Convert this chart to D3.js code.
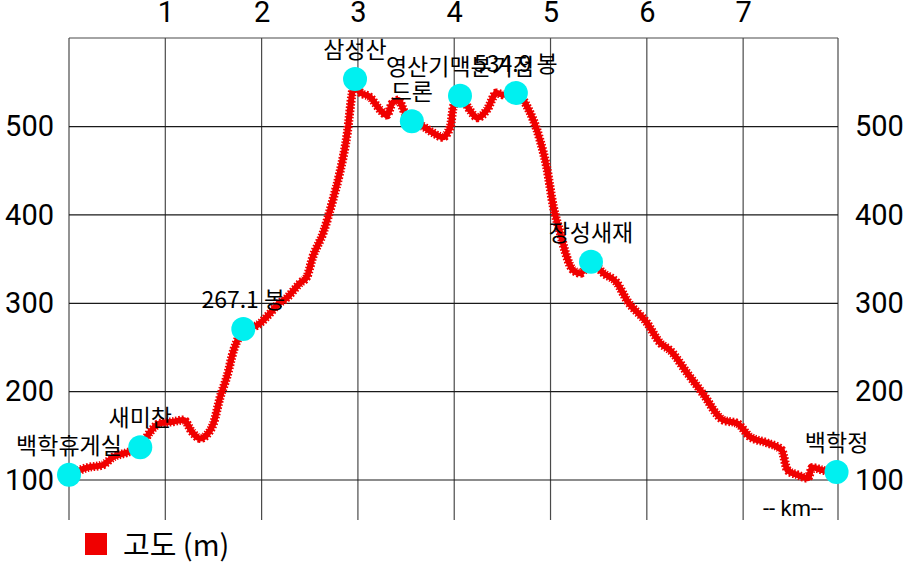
<!DOCTYPE html>
<html>
<head>
<meta charset="utf-8">
<script src="https://cdn.jsdelivr.net/npm/d3@7"></script>
<style>
  html, body { margin: 0; padding: 0; background: #fff; }
  svg { display: block; }
</style>
</head>
<body>
<div id="chart"></div>
<script>
// ---- data ----
const profileKm = [0, 0.19, 0.35, 0.46, 0.60, 0.74, 0.84, 0.94, 1.08, 1.19, 1.28, 1.36, 1.43, 1.50, 1.57, 1.64, 1.71, 1.76, 1.81, 1.95, 2.09, 2.16, 2.26, 2.40, 2.47, 2.53, 2.64, 2.74, 2.81, 2.89, 2.94, 2.97, 3.02, 3.13, 3.23, 3.30, 3.36, 3.42, 3.49, 3.56, 3.68, 3.78, 3.88, 3.96, 3.99, 4.06, 4.16, 4.24, 4.34, 4.44, 4.51, 4.64, 4.76, 4.89, 4.96, 5.03, 5.10, 5.17, 5.23, 5.31, 5.42, 5.55, 5.69, 5.79, 6.00, 6.14, 6.24, 6.42, 6.58, 6.79, 6.94, 7.07, 7.25, 7.40, 7.46, 7.56, 7.67, 7.72, 7.83, 7.97];
const profileElev = [106, 114, 117, 126, 131, 137, 154, 164, 166, 168, 154, 147, 151, 164, 194, 217, 247, 261, 271, 275, 289, 298, 306, 323, 330, 352, 380, 417, 447, 493, 538, 554, 539, 533, 519, 513, 527, 530, 515, 506, 500, 493, 488, 500, 522, 535, 519, 510, 519, 538, 536, 538, 522, 485, 454, 409, 380, 352, 338, 334, 347, 334, 323, 304, 278, 255, 247, 221, 198, 168, 164, 149, 142, 134, 111, 106, 102, 114, 111, 109];

const poiNames = ["백학휴게실", "새미찬", "267.1 봉", "삼성산", "드론", "영산기맥분기점", "534.9 봉", "장성새재", "백학정"];
const poiKm    = [0, 0.74, 1.81, 2.97, 3.56, 4.06, 4.64, 5.42, 7.97];
const poiElev  = [106, 137, 271, 554, 506, 535, 538, 347, 109];

const xTicks = [1, 2, 3, 4, 5, 6, 7];
const yTicks = [100, 200, 300, 400, 500];
const xGridKm = [0, 1, 2, 3, 4, 5, 6, 7];
const xMaxKm = 7.985;
const yDomain = [54.7, 600.3];
const seriesName = "고도 (m)";
const unitLabel = "-- km--";

// ---- layout ----
const W = 912, H = 566;
const mLeft = 69, mRight = 838, mTop = 38, mBottom = 520;
const red = "#f00000", cyan = "#00f0f0";
const numFont = "Roboto, 'Noto Sans', sans-serif";
const krFont = "'Noto Sans CJK KR', 'Noto Sans', sans-serif";

const svg = d3.select("#chart").append("svg").attr("width", W).attr("height", H);

const x = d3.scaleLinear().domain([0, xMaxKm]).range([mLeft, mRight]);
const y = d3.scaleLinear().domain(yDomain).range([mBottom, mTop]);

// grid
const g = svg.append("g");
g.selectAll("line.v").data(xGridKm).enter().append("line")
  .attr("x1", d => x(d)).attr("x2", d => x(d))
  .attr("y1", mTop).attr("y2", mBottom)
  .attr("stroke", "#4a4a4a").attr("stroke-width", 1.2);
g.append("line").attr("x1", mRight).attr("x2", mRight).attr("y1", mTop).attr("y2", mBottom)
  .attr("stroke", "#4a4a4a").attr("stroke-width", 1.2);
g.append("line").attr("x1", mLeft).attr("x2", mRight).attr("y1", mTop).attr("y2", mTop)
  .attr("stroke", "#4a4a4a").attr("stroke-width", 1.2);
g.selectAll("line.h").data(yTicks).enter().append("line")
  .attr("x1", mLeft).attr("x2", mRight)
  .attr("y1", d => y(d)).attr("y2", d => y(d))
  .attr("stroke", "#1a1a1a").attr("stroke-width", 1.2);

// axes labels
const topAxis = d3.axisTop(x).tickValues(xTicks).tickSize(0).tickPadding(0);
svg.append("g").attr("transform", `translate(0,${mTop - 16})`).call(topAxis)
  .call(s => s.select(".domain").remove())
  .selectAll("text").attr("font-family", numFont).attr("font-size", 29).attr("fill", "#000");

const leftAxis = d3.axisLeft(y).tickValues(yTicks).tickSize(0).tickPadding(0);
svg.append("g").attr("transform", `translate(${mLeft - 15},0)`).call(leftAxis)
  .call(s => s.select(".domain").remove())
  .selectAll("text").attr("font-family", numFont).attr("font-size", 29).attr("fill", "#000");

const rightAxis = d3.axisRight(y).tickValues(yTicks).tickSize(0).tickPadding(0);
svg.append("g").attr("transform", `translate(${mRight + 17},0)`).call(rightAxis)
  .call(s => s.select(".domain").remove())
  .selectAll("text").attr("font-family", numFont).attr("font-size", 29).attr("fill", "#000");

// profile line
const line = d3.line().x((d, i) => x(profileKm[i])).y(d => y(d)).curve(d3.curveMonotoneX);
svg.append("path").datum(profileElev).attr("d", line)
  .attr("fill", "none").attr("stroke", red).attr("stroke-width", 6)
  .attr("stroke-linejoin", "round").attr("stroke-linecap", "round");
svg.append("path").datum(profileElev).attr("d", line)
  .attr("fill", "none").attr("stroke", red).attr("stroke-width", 9)
  .attr("stroke-dasharray", "1.6,1.6");

// markers
svg.selectAll("circle.poi").data(poiKm).enter().append("circle")
  .attr("cx", d => x(d)).attr("cy", (d, i) => y(poiElev[i]))
  .attr("r", 12).attr("fill", cyan);

// poi labels
svg.selectAll("text.poi").data(poiNames).enter().append("text")
  .attr("x", (d, i) => x(poiKm[i])).attr("y", (d, i) => y(poiElev[i]) - 21)
  .attr("text-anchor", "middle")
  .attr("font-family", krFont).attr("font-size", 23).attr("fill", "#000")
  .text(d => d);

// unit label
svg.append("text").attr("x", 793).attr("y", 516).attr("text-anchor", "middle")
  .attr("font-family", numFont).attr("font-size", 22).attr("fill", "#000").text(unitLabel);

// legend
svg.append("rect").attr("x", 85).attr("y", 533).attr("width", 22).attr("height", 22).attr("fill", red);
svg.append("text").attr("x", 123).attr("y", 556)
  .attr("font-family", krFont).attr("font-size", 29).attr("fill", "#000").text(seriesName);
</script>
</body>
</html>
